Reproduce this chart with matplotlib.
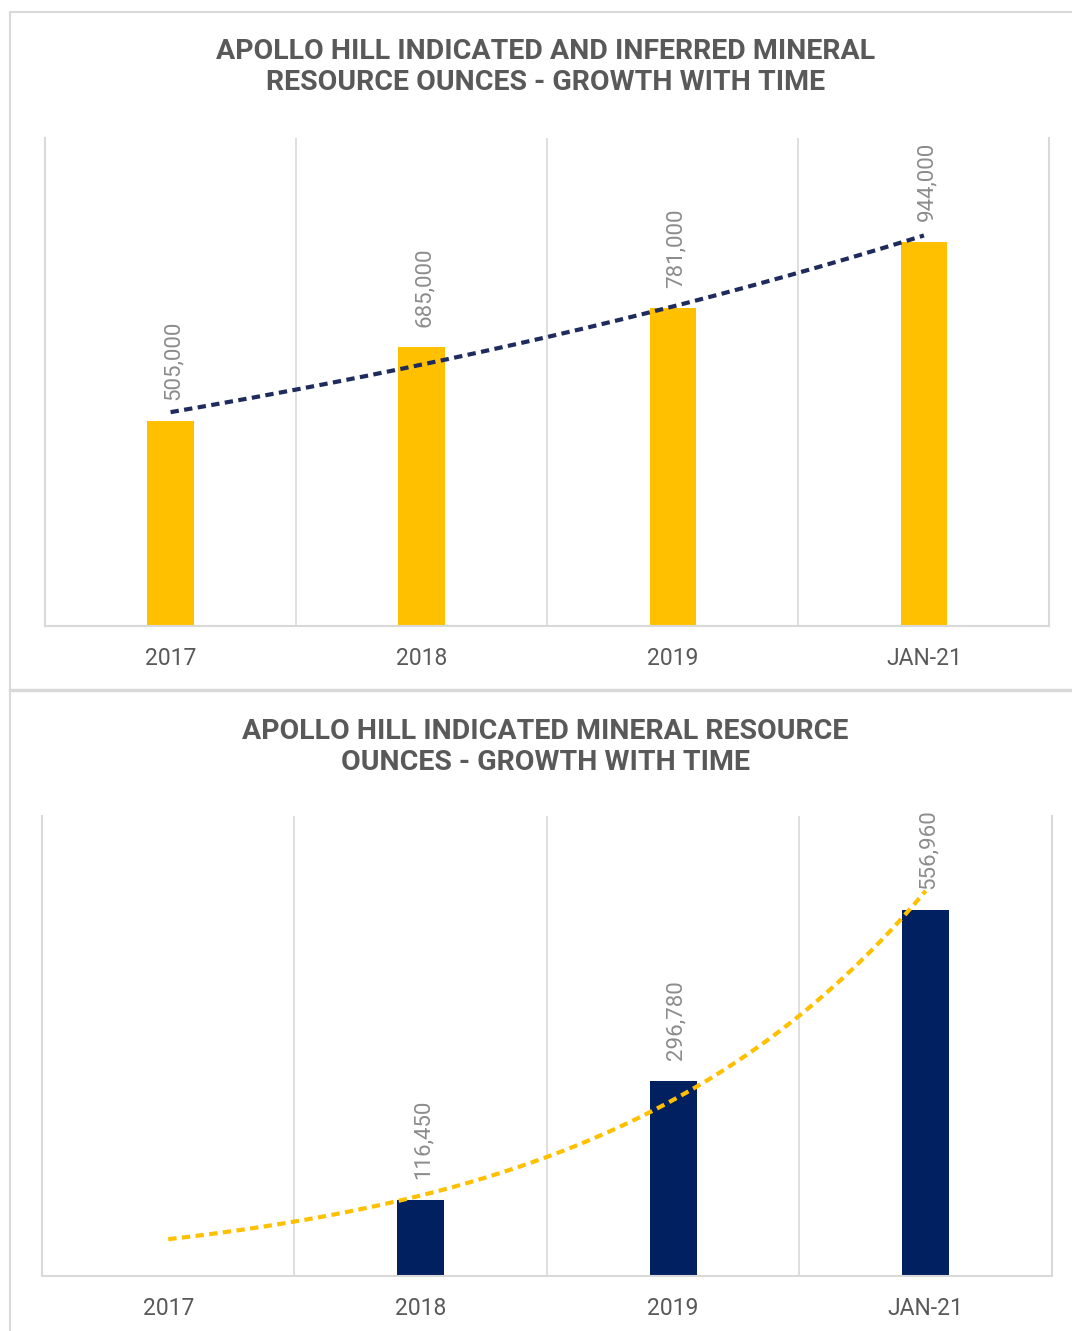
import numpy as np
import matplotlib.pyplot as plt
from matplotlib.lines import Line2D

plt.rcParams['font.family'] = ['Roboto', 'DejaVu Sans']

# data
categories = ["2017", "2018", "2019", "JAN-21"]
total_oz = [505000, 685000, 781000, 944000]
indicated_oz = [None, 116450, 296780, 556960]

title_top = "APOLLO HILL INDICATED AND INFERRED MINERAL\nRESOURCE OUNCES - GROWTH WITH TIME"
title_bottom = "APOLLO HILL INDICATED MINERAL RESOURCE\nOUNCES - GROWTH WITH TIME"

YELLOW = "#FFC000"
NAVY = "#002060"
TREND_NAVY = "#1f2b5c"
GRID = "#d9d9d9"
TEXT = "#595959"
LABEL = "#8c8c8c"


def exp_trend(values):
    """Excel-style exponential trendline, skipping missing points"""
    x = np.array([i for i, v in enumerate(values) if v is not None], dtype=float)
    y = np.array([v for v in values if v is not None], dtype=float)
    b, a = np.polyfit(x, np.log(y), 1)
    xs = np.linspace(0, len(values) - 1, 200)
    return xs, np.exp(a + b * xs)


def draw_panel(ax, values, bar_color, trend_color, ymax):
    x = np.arange(len(categories))
    heights = [v if v is not None else 0 for v in values]
    ax.bar(x, heights, width=0.185, color=bar_color, zorder=2)
    for i, v in enumerate(values):
        if v is None:
            continue
        ax.annotate(f"{v:,}", (i, v), xytext=(2, 15), textcoords="offset points",
                    rotation=90, ha="center", va="bottom", fontsize=16,
                    color=LABEL, zorder=4)
    xs, ys = exp_trend(values)
    ax.plot(xs, ys, color=trend_color, lw=3, ls=(0, (2.0, 1.3)), zorder=3)

    ax.set_xlim(-0.5, len(categories) - 0.5)
    ax.set_ylim(0, ymax)
    ax.set_yticks([])
    ax.set_xticks(x)
    ax.set_xticklabels(categories, fontsize=16.5, color=TEXT)
    ax.tick_params(axis="x", length=0, pad=15)
    for b in np.arange(0.5, len(categories) - 1, 1.0):
        ax.axvline(b, color=GRID, lw=1.2, zorder=1)
    ax.spines["top"].set_visible(False)
    for s in ["left", "right", "bottom"]:
        ax.spines[s].set_color(GRID)
        ax.spines[s].set_linewidth(1.5)


fig = plt.figure(figsize=(10.72, 13.31), dpi=100)

ax1 = fig.add_axes([0.042, 0.5297, 0.937, 0.3666])
draw_panel(ax1, total_oz, YELLOW, TREND_NAVY, 1200000)

ax2 = fig.add_axes([0.0392, 0.0413, 0.942, 0.3456])
draw_panel(ax2, indicated_oz, NAVY, YELLOW, 700000)

fig.text(0.509, 1 - 67 / 1331, title_top, ha="center", va="center", fontsize=20.5,
         fontweight="bold", color=TEXT, linespacing=1.15)
fig.text(0.509, 1 - 747 / 1331, title_bottom, ha="center", va="center", fontsize=20.5,
         fontweight="bold", color=TEXT, linespacing=1.15)

# outer frame and separator
fig.add_artist(Line2D([10 / 1072, 10 / 1072], [0, 1 - 12 / 1331], color=GRID, lw=1.5))
fig.add_artist(Line2D([10 / 1072, 1], [1 - 12 / 1331, 1 - 12 / 1331], color=GRID, lw=1.5))
fig.add_artist(Line2D([10 / 1072, 1], [1 - 690 / 1331, 1 - 690 / 1331], color=GRID, lw=2.5))

fig.savefig("out.png", dpi=100)
